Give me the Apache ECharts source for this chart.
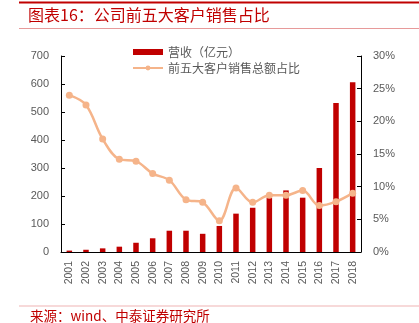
<!DOCTYPE html>
<html>
<head>
<meta charset="utf-8">
<script src="https://cdn.jsdelivr.net/npm/echarts@6/dist/echarts.min.js"></script>
<style>
  html, body { margin: 0; padding: 0; background: #fff; }
  #chart { width: 419px; height: 323px; }
</style>
</head>
<body>
<div id="chart"></div>
<script>
// Years on the category axis
const years = ['2001','2002','2003','2004','2005','2006','2007','2008','2009',
               '2010','2011','2012','2013','2014','2015','2016','2017','2018'];
// Revenue, 亿元
const revenue = [5, 8, 13, 19, 33, 49, 76, 76, 65, 93, 137, 158, 194, 220, 194, 300, 532, 606];
// Share of sales from the top five customers, %
const topFiveShare = [24.0, 22.5, 17.3, 14.2, 13.9, 12.0, 11.0, 8.0, 7.6, 4.8, 9.8, 7.6, 8.7, 8.7, 9.4, 7.1, 7.7, 9.0];

const titleText = '图表16：公司前五大客户销售占比';
const sourceText = '来源：wind、中泰证券研究所';
const revenueName = '营收（亿元）';
const shareName = '前五大客户销售总额占比';

const red = '#C00000';
const peach = '#F5B48A';
const grey = '#595959';
const cjk = '"Noto Sans CJK SC", "Noto Sans", sans-serif';
const latin = '"Liberation Sans", Arial, sans-serif';

const chart = echarts.init(document.getElementById('chart'), null, { renderer: 'canvas' });

chart.setOption({
  animation: false,
  backgroundColor: '#fff',
  textStyle: { fontFamily: cjk },
  grid: { left: 61, right: 58, top: 56, bottom: 71, containLabel: false },
  legend: {
    orient: 'vertical',
    left: 127,
    top: 41,
    itemGap: 4,
    itemWidth: 30,
    itemHeight: 6,
    textStyle: { color: grey, fontSize: 12, fontFamily: cjk },
    data: [
      { name: revenueName, icon: 'rect' },
      { name: shareName }
    ]
  },
  xAxis: {
    type: 'category',
    data: years,
    axisLine: { lineStyle: { color: '#000', width: 1 } },
    axisTick: { inside: true, length: 4, lineStyle: { color: '#000' } },
    axisLabel: { rotate: 90, color: grey, fontSize: 10.5, margin: 9, fontFamily: latin }
  },
  yAxis: [
    {
      type: 'value',
      min: 0, max: 700, interval: 100,
      splitLine: { show: false },
      axisLine: { show: true, lineStyle: { color: '#000' } },
      axisTick: { show: true, inside: true, length: 4, lineStyle: { color: '#000' } },
      axisLabel: { color: grey, fontSize: 11, margin: 12, fontFamily: latin }
    },
    {
      type: 'value',
      min: 0, max: 30, interval: 5,
      splitLine: { show: false },
      axisLine: { show: true, lineStyle: { color: '#000' } },
      axisTick: { show: true, inside: true, length: 4, lineStyle: { color: '#000' } },
      axisLabel: { color: grey, fontSize: 11, margin: 12, formatter: '{value}%', fontFamily: latin }
    }
  ],
  series: [
    {
      name: revenueName,
      type: 'bar',
      yAxisIndex: 0,
      data: revenue,
      barWidth: 5.5,
      itemStyle: { color: red }
    },
    {
      name: shareName,
      type: 'line',
      yAxisIndex: 1,
      data: topFiveShare,
      smooth: 0.35,
      symbol: 'circle',
      symbolSize: 7,
      lineStyle: { color: peach, width: 2.5 },
      itemStyle: { color: peach }
    }
  ],
  graphic: [
    { type: 'rect', shape: { x: 19, y: 1.5, width: 400, height: 2 }, style: { fill: red } },
    { type: 'rect', shape: { x: 19, y: 28, width: 400, height: 1 }, style: { fill: '#E79A9A' } },
    { type: 'rect', shape: { x: 19, y: 305.5, width: 400, height: 1 }, style: { fill: '#F0B4B4' } },
    {
      type: 'text', left: 28, top: 7,
      style: { text: titleText, fill: red, font: '16px ' + cjk }
    },
    {
      type: 'text', left: 30, top: 309,
      style: { text: sourceText, fill: red, font: '13.5px ' + cjk }
    }
  ]
});
</script>
</body>
</html>
